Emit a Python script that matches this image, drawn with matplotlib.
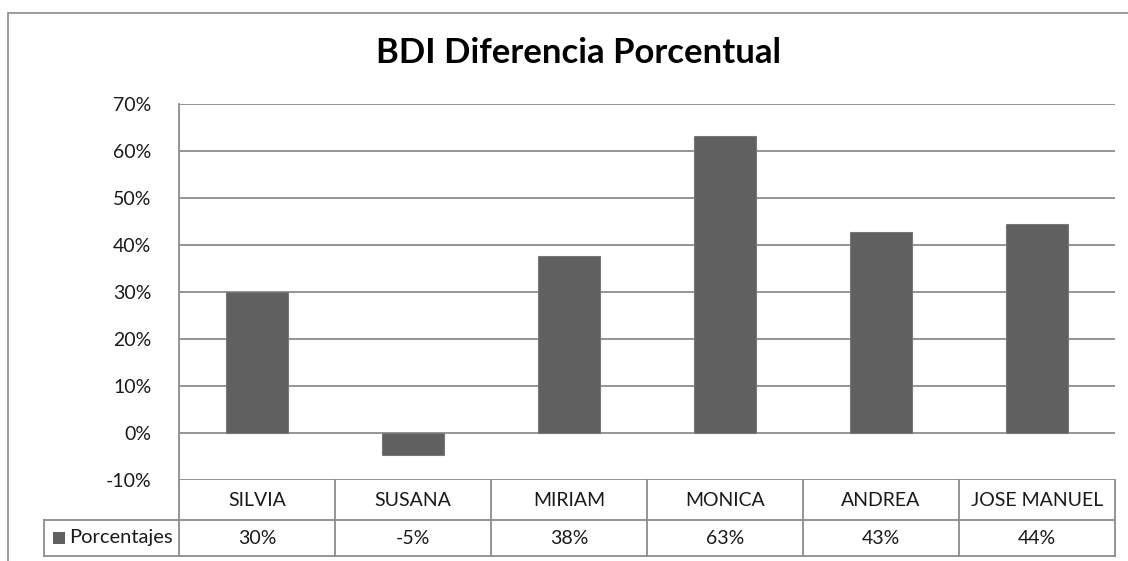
import matplotlib.pyplot as plt
import matplotlib.transforms as mtransforms
from matplotlib.patches import Rectangle
from matplotlib.ticker import PercentFormatter

plt.rcParams["axes.unicode_minus"] = False

# Data
categories = ["SILVIA", "SUSANA", "MIRIAM", "MONICA", "ANDREA", "JOSE MANUEL"]
porcentajes = [0.300, -0.047, 0.376, 0.632, 0.427, 0.444]
series_name = "Porcentajes"
title = "BDI Diferencia Porcentual"
yticks = [-0.1, 0.0, 0.1, 0.2, 0.3, 0.4, 0.5, 0.6, 0.7]

W, H = 1128, 561
DPI = 100
FONT = "Lato"
TXT = "#1a1a1a"
GRID = "#8c8c8c"
BAR = "#606060"
FS = 14

fig = plt.figure(figsize=(W / DPI, H / DPI), dpi=DPI)

# Outer chart frame (extends past the right and bottom edges)
fig.patches.append(Rectangle((8 / W, -0.2), 1.2, 1 - 13 / H + 0.2,
                             transform=fig.transFigure, fill=False,
                             edgecolor="#8a8a8a", linewidth=1.2))

# Plot area in pixel coordinates
px_left, px_right, px_top, px_bottom = 179, 1115, 104, 480
ax = fig.add_axes([px_left / W, 1 - px_bottom / H,
                   (px_right - px_left) / W, (px_bottom - px_top) / H])

x = list(range(len(categories)))
ax.bar(x, porcentajes, width=0.4, color=BAR, edgecolor="#787878",
       linewidth=0.8, zorder=3)

ax.set_xlim(-0.5, len(categories) - 0.5)
ax.set_ylim(yticks[0], yticks[-1])
ax.set_yticks(yticks)
ax.yaxis.set_major_formatter(PercentFormatter(1.0, decimals=0))
ax.set_xticks([])
ax.grid(axis="y", color=GRID, linewidth=1.3, zorder=0)
ax.tick_params(axis="y", length=0, pad=20, labelsize=FS, labelcolor=TXT)
for lab in ax.get_yticklabels():
    lab.set_fontfamily(FONT)
for side in ("top", "right", "bottom"):
    ax.spines[side].set_visible(False)
ax.spines["left"].set_color(GRID)
ax.spines["left"].set_linewidth(1.3)

# Title
fig.text(579 / W, 1 - 53 / H, title, ha="center", va="center",
         fontsize=25, fontweight="bold", family=FONT, color="black")

# Data table under the plot
plot_h = px_bottom - px_top
plot_w = px_right - px_left
row1 = -40 / plot_h
row2 = -76 / plot_h
blend = mtransforms.blended_transform_factory(ax.transData, ax.transAxes)
line_kw = dict(color=GRID, linewidth=1.3, clip_on=False, zorder=1)

for i in range(len(categories) + 1):
    xe = i - 0.5
    ax.plot([xe, xe], [0, row2], transform=blend, **line_kw)
ax.plot([-0.5, len(categories) - 0.5], [row1, row1], transform=blend, **line_kw)
ax.plot([-0.5, len(categories) - 0.5], [row2, row2], transform=blend, **line_kw)

# Legend cell on the values row
leg_left = (44 - px_left) / plot_w
ax.plot([leg_left, 0], [row1, row1], transform=ax.transAxes, **line_kw)
ax.plot([leg_left, 0], [row2, row2], transform=ax.transAxes, **line_kw)
ax.plot([leg_left, leg_left], [row1, row2], transform=ax.transAxes, **line_kw)
ax.add_patch(Rectangle(((53 - px_left) / plot_w, (row1 + row2) / 2 - 6 / plot_h),
                       12 / plot_w, 12 / plot_h, transform=ax.transAxes,
                       facecolor=BAR, edgecolor="none", clip_on=False))
ax.text((69 - px_left) / plot_w, (row1 + row2) / 2, series_name,
        transform=ax.transAxes, ha="left", va="center", fontsize=FS + 0.5,
        family=FONT, color=TXT)

for xi, name, val in zip(x, categories, porcentajes):
    ax.text(xi, row1 / 2, name, transform=blend, ha="center", va="center",
            fontsize=FS, family=FONT, color=TXT)
    ax.text(xi, (row1 + row2) / 2, f"{val:.0%}", transform=blend,
            ha="center", va="center", fontsize=FS, family=FONT, color=TXT)

fig.savefig("out.png", dpi=DPI)
